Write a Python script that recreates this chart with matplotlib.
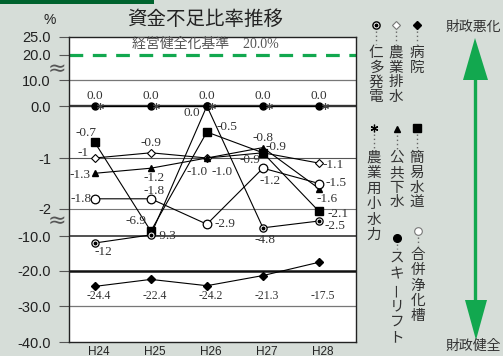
import numpy as np
import matplotlib
matplotlib.use("Agg")
import matplotlib.pyplot as plt
from matplotlib.lines import Line2D
from matplotlib.patches import Polygon, Rectangle
import matplotlib.transforms as mtransforms
from matplotlib.ticker import NullLocator

W, H = 503, 356

# data (ints where the chart prints no decimal)
years = ["H24", "H25", "H26", "H27", "H28"]
byouin = [-24.4, -22.4, -24.2, -21.3, -17.5]          # 病院
nougyou_haisui = [-1, -0.9, -1.0, -0.9, -1.1]        # 農業排水
nita = [-12, -9.3, 0.0, -4.8, -2.5]                  # 仁多発電
kanni = [-0.7, -6.9, -0.5, -0.9, -2.1]               # 簡易水道
koukyou = [-1.3, -1.2, -1.0, -0.8, -1.6]             # 公共下水
gappei = [-1.8, -1.8, -2.9, -1.2, -1.5]              # 合併浄化槽
ski = [0.0, 0.0, 0.0, 0.0, 0.0]                      # スキーリフト
kosuiryoku = [0.0, 0.0, 0.0, 0.0, 0.0]               # 農業用小水力
kijun = 20.0

ytick_vals = [25, 20, 10, 0, -1, -2, -10, -20, -30, -40]
ytick_labels = ["25.0", "20.0", "10.0", "0.0", "-1", "-2", "-10.0", "-20.0", "-30.0", "-40.0"]

# broken axis: value -> pixel row anchors
scale_vals = [-40, -30, -20, -10, -3, -2.5, -2, -1, 0, 10, 20, 25]
scale_pos = np.array([342, 306, 271, 236, 225, 221, 209, 158, 106, 80, 55, 37], dtype=float)

def fwd(v):
    return -np.interp(v, scale_vals, scale_pos)

def inv(p):
    return np.interp(p, -scale_pos, scale_vals)

BG = "#d6ddd8"
GREEN = "#12a84f"
TXT = "#333333"
SERIF = "Liberation Serif"
CJK = "Noto Sans CJK JP"

fig = plt.figure(figsize=(W / 100, H / 100), dpi=100)
fig.patch.set_facecolor(BG)

def fp(x, y):
    return x / W, 1 - y / H

fig.add_artist(Rectangle((0, 1 - 4 / H), 154 / W, 4 / H, transform=fig.transFigure,
                         color="#00632e", lw=0))

ax = fig.add_axes([69 / W, 1 - 342 / H, (356 - 69) / W, (342 - 37) / H])
ax.set_facecolor("white")
ax.set_yscale("function", functions=(fwd, inv))
ax.set_ylim(-40, 25)
ax.set_xlim(-0.46, 4.66)
ax.set_yticks(ytick_vals)
ax.set_yticklabels(ytick_labels, fontfamily="Liberation Sans", fontsize=10.5, color="#222")
ax.yaxis.set_minor_locator(NullLocator())
ax.tick_params(axis="y", length=7, width=0.8, color="#555", pad=6)
x = np.arange(len(years))
ax.set_xticks(x)
ax.set_xticklabels(years, fontfamily="Liberation Sans", fontsize=8.5, color="#222")
ax.tick_params(axis="x", length=0, pad=3)
shift = mtransforms.ScaledTranslation(4 / 100, 0, fig.dpi_scale_trans)
for lab in ax.get_xticklabels():
    lab.set_transform(lab.get_transform() + shift)
for s in ax.spines.values():
    s.set_color("#222")
    s.set_linewidth(1.0)

# horizontal rules
rules = {10: ("#777", 0.9), 0: ("#333", 1.7), -1: ("#555", 0.8), -2: ("#777", 0.8),
         -10: ("#222", 1.1), -20: ("#111", 1.8), -30: ("#777", 0.9)}
for v, (c, lw) in rules.items():
    ax.axhline(v, color=c, lw=lw, zorder=1)
ax.axhline(kijun, color=GREEN, lw=2.3, dashes=(4.3, 3.0), zorder=2)
blend = mtransforms.blended_transform_factory(ax.transAxes, ax.transData)
ax.annotate(f"経営健全化基準　{kijun:.1f}%", xy=(0.474, kijun), xycoords=blend,
            xytext=(0, 7.5), textcoords="offset points", ha="center", va="center",
            fontsize=10, color="#555", family=[SERIF, CJK])

lkw = dict(color="black", lw=0.8, zorder=3)
ax.plot(x, byouin, marker="D", ms=4.2, mfc="black", mec="black", **lkw)
ax.plot(x, nougyou_haisui, marker="D", ms=4.2, mfc="white", mec="black", mew=0.8, **lkw)
ax.plot(x, kanni, marker="s", ms=5.5, mfc="black", mec="black", **lkw)
ax.plot(x, koukyou, marker="^", ms=5, mfc="black", mec="black", **lkw)
ax.plot(x, gappei, marker="o", ms=6.2, mfc="white", mec="black", mew=0.9, **lkw)
ax.plot(x, nita, marker="o", ms=5.2, mfc="white", mec="black", mew=0.9, **lkw)
ax.plot(x, nita, ls="none", marker="o", ms=1.8, color="black", zorder=4)
ax.plot(x, ski, marker="o", ms=5, mfc="black", mec="black", **lkw)
ax.plot(x + 0.1, kosuiryoku, ls="none", marker=(6, 2, 0), ms=5, mec="#444", mew=0.8, zorder=4)

def labels(vals, offs, size=9.5):
    for i, (v, (dx, dy)) in enumerate(zip(vals, offs)):
        ax.annotate(str(v), (i, v), xytext=(dx * 0.72, -dy * 0.72), textcoords="offset points",
                    ha="center", va="center", fontfamily=SERIF, fontsize=size, color=TXT, zorder=5)

labels(kanni, [(-9, -9), (-15, -10), (20, -5), (13, -6), (19, 3)])
labels(koukyou, [(-15, 2), (3, 10), (15, 14), (0, -10), (8, 10)])
labels(nougyou_haisui, [(-12, -5), (0, -10), (-10, 14), (-13, 7), (14, 2)])
labels(gappei, [(-14, 0), (3, -8), (18, 0), (7, 13), (17, 0)])
labels(nita, [(9, 9), (15, 1), (-15, 7), (2, 12), (16, 5)])
labels(ski, [(0, -10)] * 5)
row = mtransforms.blended_transform_factory(ax.transData, ax.transAxes)
for i, v in enumerate(byouin):
    ax.text(i + 0.07, 0.151, str(v), transform=row, ha="center", va="center",
            fontfamily=SERIF, fontsize=8.5, color=TXT)

# break marks and headings
for yy in (69, 221):
    fig.text(*fp(57, yy), "≈", ha="center", va="center", fontsize=16, color="#555",
             family="DejaVu Sans")
fig.text(*fp(50, 20), "%", ha="center", va="center", fontsize=10, color="#222",
         family="Liberation Sans")
fig.text(*fp(205, 19), "資金不足比率推移", ha="center", va="center", fontsize=14,
         color="#222", family=CJK)

# vertical legend
def vlegend(xp, ym, yt, step, name, mk):
    fig.add_artist(Line2D([xp / W], [1 - ym / H], transform=fig.transFigure, **mk))
    fig.add_artist(Line2D([xp / W, xp / W], [1 - (ym + 6) / H, 1 - (yt - 9) / H],
                          transform=fig.transFigure, color="#666", lw=1.0, ls=(0, (1, 2))))
    for k, ch in enumerate(name):
        fig.text(*fp(xp, yt + k * step), ch, ha="center", va="center", fontsize=10.5,
                 color=TXT, family=CJK, rotation=90 if ch == "ー" else 0)

vlegend(417, 25, 53, 14.7, "病院", dict(marker="D", ms=4.2, mfc="black", mec="black"))
vlegend(396, 25, 53, 14.7, "農業排水", dict(marker="D", ms=4.2, mfc="white", mec="#777", mew=0.8))
vlegend(376, 25, 53, 14.7, "仁多発電", dict(marker="o", ms=5.2, mfc="white", mec="black", mew=1.0))
fig.add_artist(Line2D([376 / W], [1 - 25 / H], transform=fig.transFigure, marker="o", ms=1.8, color="black"))
vlegend(417, 128, 158, 14.8, "簡易水道", dict(marker="s", ms=5.5, mfc="black", mec="black"))
vlegend(397, 129, 158, 14.8, "公共下水", dict(marker="^", ms=5, mfc="black", mec="black"))
vlegend(374, 128, 158, 15.4, "農業用小水力", dict(marker=(6, 2, 0), ms=5.5, mec="black", mew=0.9))
vlegend(397, 238, 258, 16, "スキーリフト", dict(marker="o", ms=5.5, mfc="black", mec="black"))
vlegend(418, 231, 255, 15.3, "合併浄化槽", dict(marker="o", ms=5.5, mfc="white", mec="#777", mew=0.8))

# green arrow
fig.add_artist(Line2D([475 / W, 475 / W], [1 - 75 / H, 1 - 303 / H], transform=fig.transFigure,
                      color=GREEN, lw=2.4))
fig.add_artist(Polygon([fp(475, 38), fp(463, 80), fp(488, 80)], closed=True,
                       transform=fig.transFigure, color=GREEN, lw=0))
fig.add_artist(Polygon([fp(476, 340), fp(465, 300), fp(487, 300)], closed=True,
                       transform=fig.transFigure, color=GREEN, lw=0))
fig.text(*fp(446, 27), "財政悪化", ha="left", va="center", fontsize=10, color=TXT, family=CJK)
fig.text(*fp(446, 346), "財政健全", ha="left", va="center", fontsize=10, color=TXT, family=CJK)

fig.savefig("out.png", dpi=100, facecolor=BG)
